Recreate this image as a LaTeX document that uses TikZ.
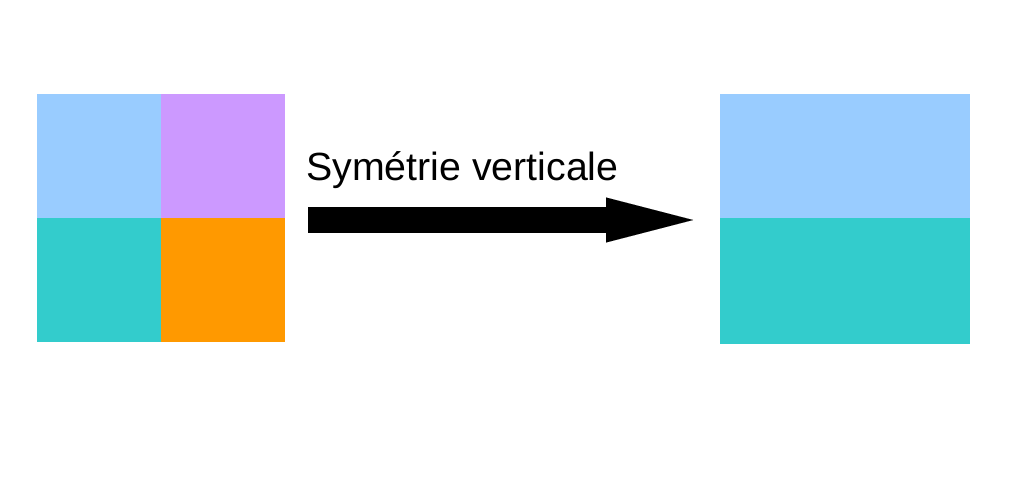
\documentclass[tikz,border=0pt]{standalone}
\usepackage{fontspec}
\setmainfont{Liberation Sans}
\usetikzlibrary{arrows.meta,positioning}
\definecolor{skyq}{HTML}{99CCFF}
\definecolor{lilacq}{HTML}{CC99FF}
\definecolor{tealq}{HTML}{33CCCC}
\definecolor{orangeq}{HTML}{FF9900}
\begin{document}
\begin{tikzpicture}[
  x=1pt, y=-1pt,
  quad/.style={draw=none, inner sep=0pt, outer sep=0pt, minimum width=124pt, minimum height=124pt, anchor=north west},
  half/.style={draw=none, inner sep=0pt, outer sep=0pt, minimum width=250pt, anchor=north west},
  label/.style={inner sep=0pt, anchor=base west, font=\fontsize{39.3}{41}\selectfont},
  bigarrow/.style={line width=26pt, -{Triangle[length=87pt,width=45pt,line width=0.01pt]}}
]
\useasboundingbox[fill=white] (0,0) rectangle (1009,481);
% image de depart
\node[quad, fill=skyq] (tl) at (37,94) {};
\node[quad, fill=lilacq] (tr) at (161,94) {};
\node[quad, fill=tealq] (bl) at (37,218) {};
\node[quad, fill=orangeq] (br) at (161,218) {};
% image d'arrivee
\node[half, fill=skyq, minimum height=124pt] (top) at (720,94) {};
\node[half, fill=tealq, minimum height=126pt] (bot) at (720,218) {};
% fleche
\node[label] (lbl) at (306,181) {Symétrie verticale};
\coordinate (start) at (308,220);
\coordinate (tip) at (693,220);
\draw[bigarrow] (start) -- (tip);
\end{tikzpicture}
\end{document}
